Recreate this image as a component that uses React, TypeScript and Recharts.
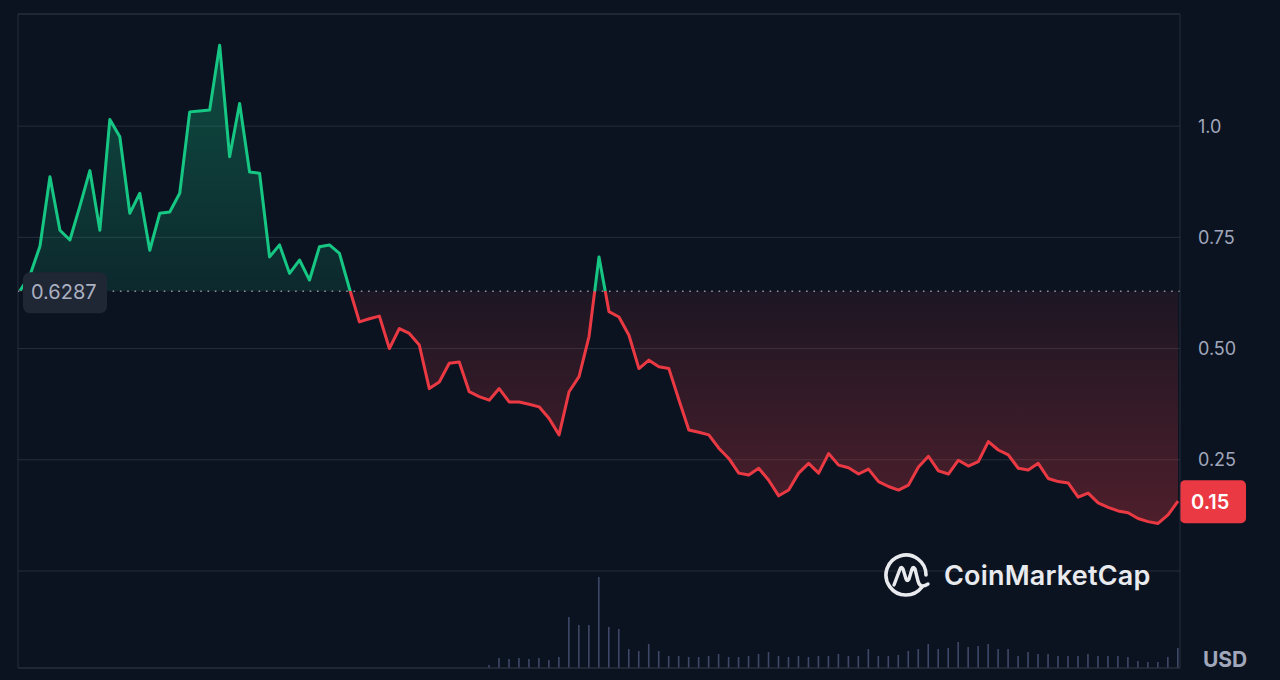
import React from "react";
import { ComposedChart, Area, Bar, XAxis, YAxis, CartesianGrid, ReferenceLine } from "recharts";

// price readings, one per step, left to right
const prices = [
  0.63, 0.665, 0.73, 0.886, 0.766, 0.744, 0.82, 0.9, 0.766, 1.015,
  0.976, 0.804, 0.849, 0.721, 0.804, 0.807, 0.849, 1.032, 1.034, 1.036,
  1.182, 0.931, 1.051, 0.897, 0.894, 0.706, 0.733, 0.669, 0.699, 0.654,
  0.729, 0.733, 0.714, 0.635, 0.56, 0.567, 0.573, 0.5, 0.545, 0.534,
  0.508, 0.41, 0.425, 0.467, 0.47, 0.403, 0.392, 0.384, 0.41, 0.38,
  0.38, 0.375, 0.369, 0.343, 0.306, 0.403, 0.437, 0.527, 0.706, 0.583,
  0.571, 0.53, 0.455, 0.474, 0.459, 0.455, 0.385, 0.317, 0.312, 0.306,
  0.276, 0.253, 0.22, 0.216, 0.231, 0.204, 0.169, 0.182, 0.22, 0.242,
  0.22, 0.264, 0.238, 0.232, 0.218, 0.229, 0.201, 0.19, 0.182, 0.193,
  0.234, 0.258, 0.225, 0.218, 0.249, 0.236, 0.246, 0.291, 0.272, 0.261,
  0.231, 0.227, 0.242, 0.208, 0.201, 0.198, 0.166, 0.175, 0.153, 0.143,
  0.135, 0.131, 0.118, 0.111, 0.107, 0.126, 0.157,
];

// volume only shows up from step 47 on
const volStart = 47;
const volumes = [
  3, 10, 9, 10, 9, 10, 8, 11, 51, 43, 43, 91, 41, 39,
  19, 17, 24, 17, 12, 12, 11, 11, 12, 14, 11, 11, 12, 14, 16, 12,
  11, 12, 11, 12, 12, 14, 12, 12, 19, 12, 12, 13, 17, 19, 24, 19,
  20, 26, 21, 22, 24, 19, 19, 12, 16, 14, 14, 12, 12, 12, 14, 12,
  12, 12, 11, 7, 6, 6, 11, 20,
];

const yTicks = [0, 0.25, 0.5, 0.75, 1];
const openPrice = 0.6287;
const openLabel = "0.6287";
const lastLabel = "0.15";

const GREEN = "#16c784";
const RED = "#ea3943";
const BG = "#0b1321";
const GRID = "#262e3d";
const TEXT = "#a1a7bb";
const FONT = "Inter, 'Noto Sans', sans-serif";

const yMin = -0.218;
const yMax = 1.252;
const xMin = -0.2;
const xMax = prices.length - 1 + 0.2;

const data = prices.map((p, i) => ({
  i,
  price: p,
  vol: i >= volStart ? volumes[i - volStart] : null,
}));

const maxP = Math.max(...prices);
const minP = Math.min(...prices);
const off = (maxP - openPrice) / (maxP - minP);

const OpenTag = (props: any) => {
  const { viewBox } = props;
  if (!viewBox) return null;
  const x = viewBox.x + 5;
  const y = viewBox.y;
  return (
    <g>
      <rect x={x} y={y - 19} width={84} height={41} rx={7} fill="#1f2634" />
      <text x={x + 8} y={y + 1} fill="#aab0c0" fontSize={20} fontFamily={FONT} dominantBaseline="central">
        {openLabel}
      </text>
    </g>
  );
};

const LastTag = (props: any) => {
  const { viewBox } = props;
  if (!viewBox) return null;
  const x = viewBox.x + viewBox.width;
  const y = viewBox.y;
  return (
    <g>
      <rect x={x} y={y - 21} width={66} height={43} rx={5} fill={RED} />
      <text x={x + 11} y={y + 1} fill="#ffffff" fontSize={20} fontWeight={600} fontFamily={FONT} dominantBaseline="central">
        {lastLabel}
      </text>
    </g>
  );
};

const fmt = (v: number) => (v === 0 ? "" : v === 1 ? "1.0" : v.toFixed(2));

export default function App() {
  return (
    <div style={{ position: "absolute", left: 0, top: 0, width: 1280, height: 680, background: BG, overflow: "hidden" }}>
      <ComposedChart width={1280} height={680} data={data} margin={{ top: 14, right: 0, bottom: 0, left: 18 }}>
        <defs>
          <linearGradient id="lineGrad" x1="0" y1="0" x2="0" y2="1">
            <stop offset={off} stopColor={GREEN} />
            <stop offset={off} stopColor={RED} />
          </linearGradient>
          <linearGradient id="fillGrad" x1="0" y1="0" x2="0" y2="1">
            <stop offset={0} stopColor={GREEN} stopOpacity={0.32} />
            <stop offset={off} stopColor={GREEN} stopOpacity={0.12} />
            <stop offset={off} stopColor={RED} stopOpacity={0.08} />
            <stop offset={1} stopColor={RED} stopOpacity={0.3} />
          </linearGradient>
        </defs>
        <CartesianGrid yAxisId="p" vertical={false} stroke={GRID} />
        <XAxis
          dataKey="i"
          type="number"
          domain={[xMin, xMax]}
          allowDataOverflow
          tick={false}
          tickLine={false}
          height={12}
          axisLine={{ stroke: GRID }}
        />
        <YAxis
          yAxisId="p"
          orientation="right"
          type="number"
          domain={[yMin, yMax]}
          allowDataOverflow
          ticks={yTicks}
          tickFormatter={fmt}
          width={100}
          tickLine={false}
          tickSize={0}
          tickMargin={18}
          axisLine={{ stroke: GRID }}
          tick={{ fill: TEXT, fontSize: 18, fontFamily: FONT }}
        />
        <YAxis yAxisId="v" hide domain={[0, 654]} />
        <ReferenceLine yAxisId="p" y={yMax} stroke={GRID} />
        <ReferenceLine yAxisId="p" x={xMin} stroke={GRID} />
        <Bar yAxisId="v" dataKey="vol" barSize={1.6} fill="#3f4868" isAnimationActive={false} />
        <Area
          yAxisId="p"
          type="linear"
          dataKey="price"
          baseValue={openPrice}
          stroke="url(#lineGrad)"
          strokeWidth={3}
          strokeLinejoin="round"
          fill="url(#fillGrad)"
          fillOpacity={1}
          dot={false}
          activeDot={false}
          isAnimationActive={false}
        />
        <ReferenceLine
          yAxisId="p"
          y={openPrice}
          stroke="#8a919e"
          strokeWidth={1.6}
          strokeDasharray="1.6 5.7"
          label={<OpenTag />}
        />
        <ReferenceLine yAxisId="p" y={prices[prices.length - 1]} stroke="none" label={<LastTag />} />
      </ComposedChart>

      <div style={{ position: "absolute", left: 882, top: 551, width: 50, height: 50 }}>
        <svg width={50} height={50} viewBox="0 0 50 50">
          <path
            d="M 40 36 A 20 20 0 1 1 44 24"
            fill="none"
            stroke="#e8eaee"
            strokeWidth={3.6}
            strokeLinecap="round"
          />
          <path
            d="M 12 34 L 18 18 Q 19 15 21 18 L 24 28 Q 25 31 27 28 L 30 18 Q 31 15 33 18 L 36 30 Q 38 38 46 33"
            fill="none"
            stroke="#e8eaee"
            strokeWidth={3.4}
            strokeLinecap="round"
            strokeLinejoin="round"
          />
        </svg>
      </div>
      <div
        style={{
          position: "absolute",
          left: 944,
          top: 558,
          fontFamily: FONT,
          fontSize: 27,
          fontWeight: 600,
          color: "#e8eaee",
          lineHeight: "36px",
          letterSpacing: 0.2,
        }}
      >
        CoinMarketCap
      </div>
      <div
        style={{
          position: "absolute",
          left: 1203,
          top: 648,
          fontFamily: FONT,
          fontSize: 21,
          fontWeight: 700,
          color: TEXT,
          lineHeight: "24px",
        }}
      >
        USD
      </div>
    </div>
  );
}
